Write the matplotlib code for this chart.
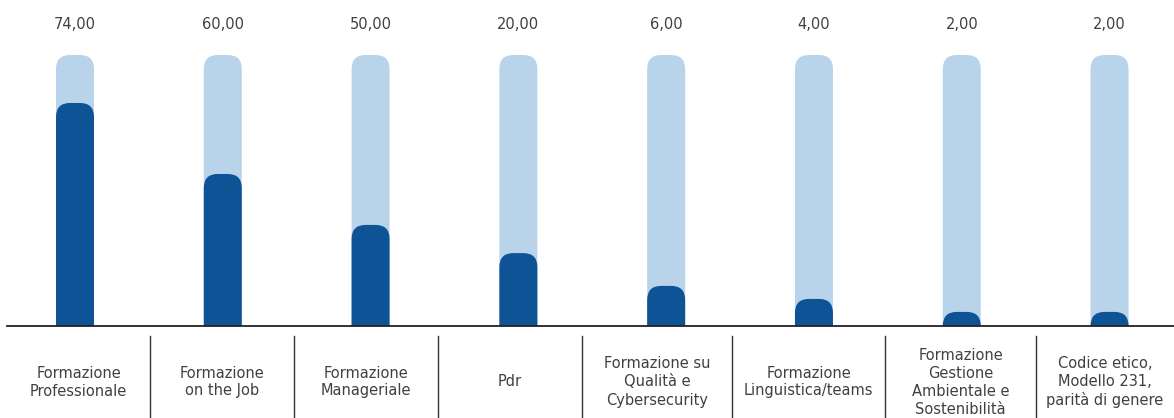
import matplotlib
matplotlib.use("Agg")
import matplotlib.pyplot as plt
from matplotlib.patches import FancyBboxPatch

# Data
categories = [
    "Formazione\nProfessionale",
    "Formazione\non the Job",
    "Formazione\nManageriale",
    "Pdr",
    "Formazione su\nQualità e\nCybersecurity",
    "Formazione\nLinguistica/teams",
    "Formazione\nGestione\nAmbientale e\nSostenibilità",
    "Codice etico,\nModello 231,\nparità di genere",
]
value_labels = ["74,00", "60,00", "50,00", "20,00", "6,00", "4,00", "2,00", "2,00"]
# filled share of each track (%)
fill_pct = [82.3, 56.1, 37.3, 26.9, 14.8, 10.0, 5.2, 5.2]
track_pct = [100] * len(categories)

dark = "#0E5396"
light = "#B9D3EA"
text_col = "#404040"

W, H = 1174, 418
fig = plt.figure(figsize=(W / 100, H / 100), dpi=100)
ax = fig.add_axes([7 / W, 92 / H, 1167 / W, 326 / H])
ax.set_xlim(-0.46, 7.436)
ax.set_ylim(0, 120.3)
ax.axis("off")

# rounded-top bars: width and corner radius in pixels converted to data units
px_x = (7.436 + 0.46) / 1167
px_y = 120.3 / 326
bw = 38 * px_x
rad = 14 * px_x
aspect = px_y / px_x


def rbar(x, h, color, z):
    p = FancyBboxPatch((x - bw / 2, -20), bw, h + 20,
                       boxstyle=f"round,pad=0,rounding_size={rad}",
                       mutation_aspect=aspect, fc=color, ec="none", zorder=z)
    ax.add_patch(p)


for i in range(len(categories)):
    rbar(i, track_pct[i], light, 1)
    rbar(i, fill_pct[i], dark, 2)
    ax.text(i, 111.4, value_labels[i], ha="center", va="center",
            fontsize=10.5, color=text_col)

ax.axhline(0, color="#222222", lw=1.3, zorder=3, clip_on=False)

# label table below the axis
edges = [7, 150, 294, 438, 582, 732, 885, 1036, 1174]
for e in edges[1:-1]:
    fig.add_artist(plt.Line2D([e / W, e / W], [0, (H - 336) / H],
                              color="#333333", lw=1.0))
for i, lab in enumerate(categories):
    cx = (edges[i] + edges[i + 1]) / 2
    fig.text(cx / W, (H - 382) / H, lab, ha="center", va="center",
             fontsize=10.5, color=text_col, linespacing=1.25)

fig.savefig("out.png", dpi=100)
